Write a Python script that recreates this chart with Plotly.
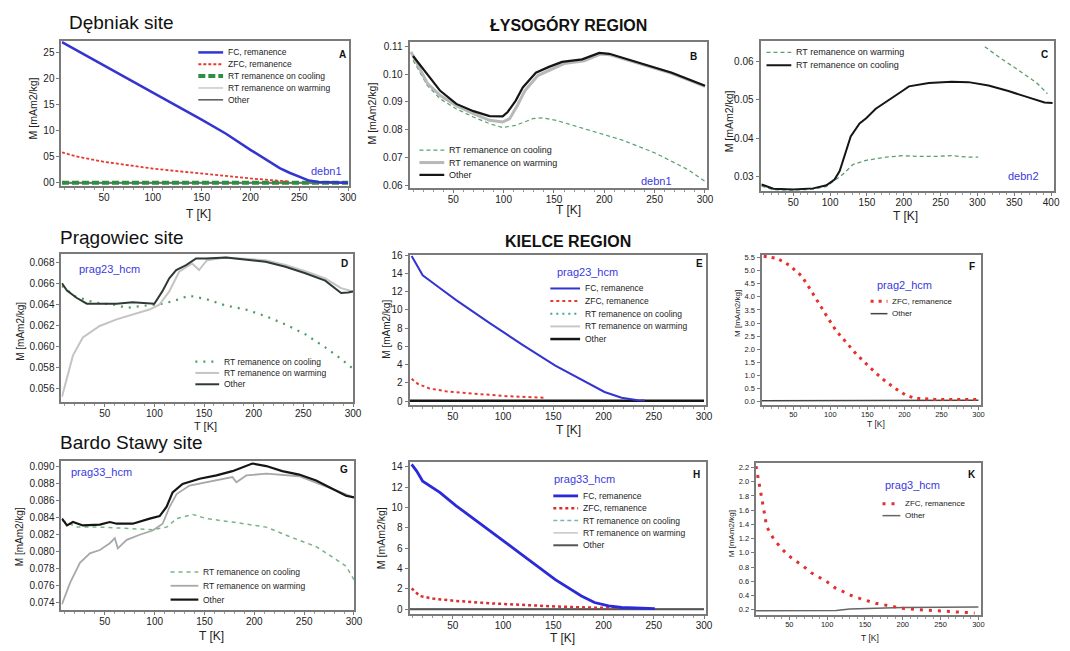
import plotly.graph_objects as go

W, H = 1070, 651
FONT = "Liberation Sans, Arial, sans-serif"

# ------------------------------------------------------------------ data
XT_300 = [50, 100, 150, 200, 250, 300]
XT_400 = [50, 100, 150, 200, 250, 300, 350, 400]

# A  (Debniak, debn1)
A_T_FC = [7, 25, 50, 75, 100, 125, 150, 175, 200, 215, 230, 240, 250, 260, 270, 300]
A_FC = [27.0, 25.1, 22.5, 19.9, 17.3, 14.7, 12.1, 9.4, 6.3, 4.6, 2.8, 1.9, 1.1, 0.4, 0.1, 0.0]
A_T_ZFC = [7, 25, 50, 75, 100, 125, 150, 175, 200, 225, 240]
A_ZFC = [5.8, 4.9, 4.0, 3.3, 2.7, 2.2, 1.8, 1.3, 0.8, 0.4, 0.2]
A_T_RT = [7, 50, 100, 150, 200, 250, 300]
A_COOL = [0.0, 0.0, 0.0, 0.0, 0.0, 0.0, 0.0]
A_WARM = [0.05, 0.05, 0.05, 0.05, 0.05, 0.05, 0.05]
A_OTHER = [-0.05, -0.05, -0.05, -0.05, -0.05, -0.05, -0.05]
A_YT = [0, 5, 10, 15, 20, 25]
A_YTT = ["00", "05", "10", "15", "20", "25"]

# B  (Lysogory, debn1)
B_T_OTHER = [10, 24, 37, 53, 70, 86, 99, 104, 112, 119, 132, 145, 158, 178, 195, 205, 234, 267, 300]
B_OTHER = [0.1065, 0.1000, 0.0940, 0.0893, 0.0867, 0.0849, 0.0848, 0.0864, 0.0905, 0.0952,
           0.1005, 0.1026, 0.1044, 0.1053, 0.1076, 0.1073, 0.1041, 0.1005, 0.0958]
B_T_WARM = [8, 24, 37, 53, 70, 86, 99, 106, 114, 121, 134, 147, 160, 180, 196, 205, 234, 267, 300]
B_WARM = [0.1080, 0.0968, 0.0923, 0.0887, 0.0858, 0.0834, 0.0828, 0.0840, 0.0890, 0.0940,
          0.0995, 0.1018, 0.1038, 0.1048, 0.1072, 0.1070, 0.1039, 0.1003, 0.0956]
B_T_COOL = [10, 24, 37, 53, 70, 86, 99, 112, 129, 139, 152, 185, 218, 251, 283, 300]
B_COOL = [0.1050, 0.0960, 0.0911, 0.0875, 0.0846, 0.0822, 0.0808, 0.0816, 0.0840, 0.0843,
          0.0834, 0.0799, 0.0763, 0.0716, 0.0657, 0.0615]
B_YT = [0.06, 0.07, 0.08, 0.09, 0.10, 0.11]
B_YTT = ["0.06", "0.07", "0.08", "0.09", "0.10", "0.11"]

# C  (debn2)
C_T_COOL = [7, 23, 50, 77, 95, 106, 113, 122, 128, 140, 149, 162, 180, 198, 207, 234, 265,
            288, 315, 342, 368, 391, 402]
C_COOL = [0.0280, 0.0269, 0.0267, 0.0270, 0.0278, 0.0293, 0.0315, 0.0370, 0.0405, 0.0439,
          0.0452, 0.0477, 0.0499, 0.0523, 0.0535, 0.0544, 0.0547, 0.0546, 0.0537, 0.0523,
          0.0507, 0.0493, 0.0492]
C_T_WARM = [7, 23, 50, 77, 95, 106, 117, 131, 149, 176, 198, 220, 243, 265, 288, 301, 305,
            310, 330, 355, 380, 395]
C_WARM = [0.0276, 0.0266, 0.0265, 0.0268, 0.0275, 0.0290, 0.0306, 0.0332, 0.0343, 0.0351,
          0.0355, 0.0353, 0.0353, 0.0355, 0.0351, 0.0351, None,
          0.0638, 0.0610, 0.0578, 0.0545, 0.0516]
C_YT = [0.03, 0.04, 0.05, 0.06]
C_YTT = ["0.03", "0.04", "0.05", "0.06"]

# D  (Pragowiec, prag23_hcm)
D_T_OTHER = [7, 12, 22, 32, 45, 62, 78, 95, 100, 108, 115, 122, 132, 142, 152, 172, 192,
             212, 232, 252, 272, 288, 295, 300]
D_OTHER = [0.06605, 0.06536, 0.06464, 0.06410, 0.06410, 0.06410, 0.06423, 0.06417, 0.06410,
           0.06527, 0.06652, 0.06731, 0.06778, 0.06841, 0.06841, 0.06850, 0.06831, 0.06810,
           0.06762, 0.06700, 0.06630, 0.06511, 0.06517, 0.06527]
D_T_WARM = [7, 12, 18, 28, 45, 62, 78, 95, 105, 115, 125, 138, 145, 153, 172, 192, 212, 232,
            252, 272, 288, 300]
D_WARM = [0.05521, 0.05694, 0.05914, 0.06087, 0.06197, 0.06260, 0.06307, 0.06354, 0.06400,
          0.06527, 0.06715, 0.06794, 0.06731, 0.06825, 0.06850, 0.06835, 0.06825, 0.06780,
          0.06720, 0.06650, 0.06558, 0.06527]
D_T_COOL = [7, 20, 40, 60, 72, 95, 108, 118, 135, 152, 172, 192, 212, 232, 252, 272, 288, 300]
D_COOL = [0.06580, 0.06480, 0.06420, 0.06400, 0.06370, 0.06400, 0.06410, 0.06432, 0.06486,
          0.06454, 0.06392, 0.06354, 0.06291, 0.06212, 0.06118, 0.05993, 0.05883, 0.05789]
D_YT = [0.056, 0.058, 0.060, 0.062, 0.064, 0.066, 0.068]
D_YTT = ["0.056", "0.058", "0.060", "0.062", "0.064", "0.066", "0.068"]

# E  (Kielce, prag23_hcm)
E_T_FC = [9, 20, 37, 53, 86, 119, 152, 185, 201, 218, 234, 241]
E_FC = [15.9, 13.8, 12.4, 11.1, 8.6, 6.2, 3.9, 1.9, 1.0, 0.36, 0.1, 0.07]
E_T_ZFC = [9, 15, 27, 43, 70, 103, 142]
E_ZFC = [2.45, 1.9, 1.37, 1.08, 0.83, 0.54, 0.36]
E_T_RT = [7, 50, 100, 150, 200, 250, 300]
E_COOL = [0.0, 0.0, 0.0, 0.0, 0.0, 0.0, 0.0]
E_WARM = [0.0, 0.0, 0.0, 0.0, 0.0, 0.0, 0.0]
E_OTHER = [0.05, 0.05, 0.05, 0.05, 0.05, 0.05, 0.05]
E_YT = [0, 2, 4, 6, 8, 10, 12, 14, 16]
E_YTT = ["0", "2", "4", "6", "8", "10", "12", "14", "16"]

# F  (prag2_hcm)
F_T_ZFC = [10, 28, 45, 61, 72, 81, 95, 108, 121, 135, 153, 170, 188, 202, 215, 242, 270, 300]
F_ZFC = [5.55, 5.47, 5.2, 4.8, 4.33, 3.9, 3.27, 2.7, 2.26, 1.82, 1.32, 0.88, 0.5, 0.25, 0.13,
         0.09, 0.09, 0.09]
F_T_OTHER = [7, 60, 120, 180, 240, 300]
F_OTHER = [0.04, 0.04, 0.05, 0.06, 0.06, 0.06]
F_YT = [0.0, 0.5, 1.0, 1.5, 2.0, 2.5, 3.0, 3.5, 4.0, 4.5, 5.0, 5.5]
F_YTT = ["0.0", "0.5", "1.0", "1.5", "2.0", "2.5", "3.0", "3.5", "4.0", "4.5", "5.0", "5.5"]

# G  (Bardo Stawy, prag33_hcm)
G_T_OTHER = [7, 12, 18, 28, 45, 55, 62, 78, 95, 105, 112, 118, 128, 145, 162, 178, 198, 212,
             228, 245, 262, 278, 292, 300]
G_OTHER = [0.0839, 0.0831, 0.0835, 0.0831, 0.0832, 0.0835, 0.0833, 0.0833, 0.0839, 0.0842,
           0.0853, 0.0870, 0.0880, 0.0886, 0.0890, 0.0895, 0.0904, 0.0901, 0.0895, 0.0891,
           0.0884, 0.0874, 0.0866, 0.0864]
G_T_WARM = [7, 15, 25, 35, 45, 55, 60, 63, 72, 85, 98, 108, 115, 122, 135, 152, 178, 182,
            192, 212, 245, 278, 300]
G_WARM = [0.0738, 0.0763, 0.0787, 0.0798, 0.0802, 0.0810, 0.0816, 0.0804, 0.0814, 0.0820,
          0.0825, 0.0833, 0.0853, 0.0868, 0.0878, 0.0882, 0.0888, 0.0882, 0.0890, 0.0892,
          0.0889, 0.0874, 0.0864]
G_T_COOL = [7, 22, 45, 78, 98, 112, 122, 138, 152, 178, 212, 235, 262, 278, 292, 300]
G_COOL = [0.0837, 0.0829, 0.0829, 0.0827, 0.0826, 0.0829, 0.0839, 0.0844, 0.0839, 0.0835,
          0.0829, 0.0818, 0.0806, 0.0794, 0.0783, 0.0767]
G_YT = [0.074, 0.076, 0.078, 0.080, 0.082, 0.084, 0.086, 0.088, 0.090]
G_YTT = ["0.074", "0.076", "0.078", "0.080", "0.082", "0.084", "0.086", "0.088", "0.090"]

# H  (prag33_hcm)
H_T_FC = [9, 14, 20, 37, 53, 86, 119, 152, 178, 191, 205, 218, 251]
H_FC = [14.26, 13.6, 12.6, 11.5, 10.2, 7.8, 5.35, 2.9, 1.3, 0.65, 0.32, 0.16, 0.06]
H_T_ZFC = [9, 17, 30, 53, 86, 119, 152, 185, 211]
H_ZFC = [2.05, 1.3, 1.04, 0.81, 0.58, 0.39, 0.26, 0.16, 0.1]
H_T_RT = [7, 50, 100, 150, 200, 250, 300]
H_COOL = [0.0, 0.0, 0.0, 0.0, 0.0, 0.0, 0.0]
H_WARM = [0.05, 0.05, 0.05, 0.05, 0.05, 0.05, 0.05]
H_OTHER = [0.0, 0.0, 0.0, 0.0, 0.0, 0.0, 0.0]
H_YT = [0, 2, 4, 6, 8, 10, 12, 14]
H_YTT = ["0", "2", "4", "6", "8", "10", "12", "14"]

# K  (prag3_hcm)
K_T_ZFC = [6, 9, 12, 14, 17, 20, 29, 39, 49, 60, 71, 79, 90, 99, 110, 121, 132, 143, 154, 164,
           182, 199, 221, 243, 265, 295]
K_ZFC = [2.22, 2.06, 1.9, 1.74, 1.56, 1.37, 1.2, 1.07, 0.96, 0.88, 0.79, 0.72, 0.65, 0.6, 0.51,
         0.45, 0.4, 0.36, 0.325, 0.29, 0.256, 0.22, 0.2, 0.186, 0.17, 0.154]
K_T_OTHER = [6, 60, 112, 130, 200, 300]
K_OTHER = [0.186, 0.186, 0.19, 0.21, 0.23, 0.24]
K_YT = [0.2, 0.4, 0.6, 0.8, 1.0, 1.2, 1.4, 1.6, 1.8, 2.0, 2.2]
K_YTT = ["0.2", "0.4", "0.6", "0.8", "1.0", "1.2", "1.4", "1.6", "1.8", "2.0", "2.2"]

L_FC = "FC, remanence"
L_ZFC = "ZFC, remanence"
L_COOL = "RT remanence on cooling"
L_WARM = "RT remanence on warming"
L_OTHER = "Other"

# ------------------------------------------------------------------ styles
BLUE = "#3434d0"
RED = "#e63a2e"

def st(color, width, dash="solid"):
    return dict(color=color, width=width, dash=dash)

panels = [
    dict(box=(62, 36, 352, 183), xr=[6.5, 301], yr=[-0.6, 27.3], xt=XT_300, yt=A_YT, ytt=A_YTT,
         tf=10, letter="A",
         series=[(A_T_RT, A_WARM, st("#c8c8c8", 1.5), L_WARM),
                 (A_T_RT, A_OTHER, st("#555555", 1.5), L_OTHER),
                 (A_T_RT, A_COOL, st("#2f8f40", 4, "7px,3px"), L_COOL),
                 (A_T_ZFC, A_ZFC, st(RED, 1.8, "3px,2px"), L_ZFC),
                 (A_T_FC, A_FC, st(BLUE, 2.5), L_FC)],
         legend=dict(x=200, y=48, dy=12, ln=25, size=8.5,
                     order=[L_FC, L_ZFC, L_COOL, L_WARM, L_OTHER]),
         tag=("debn1", 312, 168)),
    dict(box=(413, 37, 713, 185), xr=[6.5, 302], yr=[0.0592, 0.1117], xt=XT_300, yt=B_YT, ytt=B_YTT,
         tf=10, letter="B",
         series=[(B_T_COOL, B_COOL, st("#5aa06e", 1.2, "4px,3px"), L_COOL),
                 (B_T_WARM, B_WARM, st("#b8b8b8", 3), L_WARM),
                 (B_T_OTHER, B_OTHER, st("#151515", 2.2), L_OTHER)],
         legend=dict(x=423, y=147, dy=12.5, ln=25, size=9,
                     order=[L_COOL, L_WARM, L_OTHER]),
         tag=("debn1", 644, 178)),
    dict(box=(767, 36, 1063, 188), xr=[5.6, 404], yr=[0.0264, 0.0654], xt=XT_400, yt=C_YT, ytt=C_YTT,
         tf=10, letter="C",
         series=[(C_T_WARM, C_WARM, st("#5aa06e", 1.3, "4px,3px"), L_WARM),
                 (C_T_COOL, C_COOL, st("#151515", 2), L_COOL)],
         legend=dict(x=773, y=48, dy=13, ln=25, size=9,
                     order=[L_WARM, L_COOL]),
         tag=("debn2", 1015, 173)),
    dict(box=(62, 252, 356, 402), xr=[6.5, 300], yr=[0.05471, 0.06885], xt=XT_300, yt=D_YT, ytt=D_YTT,
         tf=10, letter="D",
         series=[(D_T_COOL, D_COOL, st("#4f9a63", 2.2, "2px,6px"), L_COOL),
                 (D_T_WARM, D_WARM, st("#c4c4c4", 2), L_WARM),
                 (D_T_OTHER, D_OTHER, st("#2e3b32", 2), L_OTHER)],
         legend=dict(x=197, y=361, dy=11.5, ln=24, size=8.5,
                     order=[L_COOL, L_WARM, L_OTHER]),
         tag=("prag23_hcm", 78, 267)),
    dict(box=(413, 253, 712, 405), xr=[6.9, 302], yr=[-0.43, 16.03], xt=XT_300, yt=E_YT, ytt=E_YTT,
         tf=10, letter="E",
         series=[(E_T_RT, E_WARM, st("#c8c8c8", 2), L_WARM),
                 (E_T_RT, E_COOL, st("#4aa0a0", 2, "2px,4px"), L_COOL),
                 (E_T_RT, E_OTHER, st("#151515", 2.5), L_OTHER),
                 (E_T_ZFC, E_ZFC, st(RED, 2, "3px,3px"), L_ZFC),
                 (E_T_FC, E_FC, st(BLUE, 2), L_FC)],
         legend=dict(x=555, y=287, dy=12.8, ln=30, size=8.5,
                     order=[L_FC, L_ZFC, L_COOL, L_WARM, L_OTHER]),
         tag=("prag23_hcm", 560, 270)),
    dict(box=(768, 253, 989, 405), xr=[7.1, 303], yr=[-0.124, 5.6], xt=XT_300, yt=F_YT, ytt=F_YTT,
         tf=7.5, letter="F",
         series=[(F_T_OTHER, F_OTHER, st("#444444", 1.5), L_OTHER),
                 (F_T_ZFC, F_ZFC, st("#e8302a", 3, "3px,5px"), L_ZFC)],
         legend=dict(x=878, y=300, dy=12.5, ln=17, size=8,
                     order=[L_ZFC, L_OTHER]),
         tag=("prag2_hcm", 882, 283)),
    dict(box=(62, 462, 357, 613), xr=[6.5, 300], yr=[0.07307, 0.09066], xt=XT_300, yt=G_YT, ytt=G_YTT,
         tf=10, letter="G",
         series=[(G_T_COOL, G_COOL, st("#7ab48a", 1.5, "4px,4px"), L_COOL),
                 (G_T_WARM, G_WARM, st("#a8a8a8", 1.8), L_WARM),
                 (G_T_OTHER, G_OTHER, st("#151515", 2.2), L_OTHER)],
         legend=dict(x=172, y=574, dy=14, ln=28, size=8.5,
                     order=[L_COOL, L_WARM, L_OTHER]),
         tag=("prag33_hcm", 70, 473)),
    dict(box=(413, 463, 712, 617), xr=[6.9, 302], yr=[-0.52, 14.46], xt=XT_300, yt=H_YT, ytt=H_YTT,
         tf=10, letter="H",
         series=[(H_T_RT, H_WARM, st("#aaaaaa", 1), L_WARM),
                 (H_T_RT, H_COOL, st("#7ab4b4", 1.5, "4px,3px"), L_COOL),
                 (H_T_RT, H_OTHER, st("#555555", 2), L_OTHER),
                 (H_T_ZFC, H_ZFC, st("#d83030", 2.5, "3px,3px"), L_ZFC),
                 (H_T_FC, H_FC, st("#2a2ad8", 2.8), L_FC)],
         legend=dict(x=558, y=497, dy=12.5, ln=25, size=8.5,
                     order=[L_FC, L_ZFC, L_COOL, L_WARM, L_OTHER]),
         tag=("prag33_hcm", 557, 480)),
    dict(box=(762, 464, 989, 618), xr=[5.4, 303], yr=[0.12, 2.26], xt=XT_300, yt=K_YT, ytt=K_YTT,
         tf=7.5, letter="K",
         series=[(K_T_OTHER, K_OTHER, st("#666666", 1.5), L_OTHER),
                 (K_T_ZFC, K_ZFC, st("#e03030", 3, "3px,6px"), L_ZFC)],
         legend=dict(x=890, y=505, dy=12, ln=18, size=8,
                     order=[L_ZFC, L_OTHER]),
         tag=("prag3_hcm", 890, 486)),
]

# axis-title and site-title placement (pixels)
ytitle_pos = [(33, 105, 10.5), (375, 110, 10.5), (735, 118, 10.5), (21, 330, 10), (390, 328, 10),
              (743, 312, 8), (20, 538, 10), (385, 540, 10.5), (738, 535, 8)]
xtitle_pos = [(200, 212, 12), (573, 208, 12), (913, 214, 12), (207, 426, 11), (573, 430, 12),
              (883, 424, 8.5), (213, 639, 12), (567, 641, 12), (877, 641, 8.5)]
letter_pos = [(345, 50), (699, 52), (1053, 50), (347, 262), (705, 262), (980, 265), (347, 470),
              (702, 475), (980, 475)]
titles = [("Dębniak site", 68, 18, False), ("ŁYSOGÓRY REGION", 573, 20, True),
          ("Prągowiec site", 58, 235, False), ("KIELCE REGION", 573, 239, True),
          ("Bardo Stawy site", 58, 443, False)]

# ------------------------------------------------------------------ build
def PX(x):
    return x / W

def PY(y):
    return 1 - y / H

fig = go.Figure()
layout = {}
shapes = []
ann = []

for i, p in enumerate(panels):
    n = "" if i == 0 else str(i + 1)
    l, t, r, b = p["box"]
    xa = dict(domain=[PX(l), PX(r)], range=p["xr"], anchor="y" + n, tickmode="array",
              tickvals=p["xt"], showline=True, mirror=True, linecolor="#7a7a7a", linewidth=2,
              ticks="outside", ticklen=3, tickcolor="#7a7a7a", showgrid=False, zeroline=False,
              ticklabelstandoff=-2,
              tickfont=dict(size=p["tf"], family=FONT, color="#222"),
              minor=dict(tickmode="linear", tick0=0, dtick=10, ticks="outside", ticklen=2,
                         tickcolor="#999"))
    ya = dict(domain=[PY(b), PY(t)], range=p["yr"], anchor="x" + n, tickmode="array",
              tickvals=p["yt"], ticktext=p["ytt"], showline=True, mirror=True,
              linecolor="#7a7a7a", linewidth=2, ticks="outside", ticklen=3, tickcolor="#7a7a7a",
              showgrid=False, zeroline=False,
              tickfont=dict(size=p["tf"], family=FONT, color="#222"))
    layout["xaxis" + n] = xa
    layout["yaxis" + n] = ya

    styles = {}
    for T, M, s, name in p["series"]:
        styles[name] = s
        fig.add_trace(go.Scatter(x=T, y=M, mode="lines", line=s, name=name,
                                 xaxis="x" + n, yaxis="y" + n, showlegend=False,
                                 connectgaps=False, hoverinfo="skip"))

    lg = p["legend"]
    for k, name in enumerate(lg["order"]):
        yy = lg["y"] + k * lg["dy"]
        shapes.append(dict(type="line", xref="paper", yref="paper", x0=PX(lg["x"]),
                           x1=PX(lg["x"] + lg["ln"]), y0=PY(yy), y1=PY(yy), line=styles[name]))
        ann.append(dict(x=PX(lg["x"] + lg["ln"] + 3), y=PY(yy), xref="paper", yref="paper",
                        text=name, showarrow=False, xanchor="left", yanchor="middle",
                        font=dict(size=lg["size"], family=FONT, color="#222")))

    tg, tx, ty = p["tag"]
    ann.append(dict(x=PX(tx), y=PY(ty), xref="paper", yref="paper", text=tg, showarrow=False,
                    xanchor="left", yanchor="middle",
                    font=dict(size=11, family=FONT, color="#3a3ae0")))
    lx, ly = letter_pos[i]
    ann.append(dict(x=PX(lx), y=PY(ly), xref="paper", yref="paper", text="<b>%s</b>" % p["letter"],
                    showarrow=False, xanchor="center", yanchor="middle",
                    font=dict(size=10, family=FONT, color="#111")))
    yx, yy, ys = ytitle_pos[i]
    ann.append(dict(x=PX(yx), y=PY(yy), xref="paper", yref="paper", text="M [mAm2/kg]",
                    textangle=-90, showarrow=False, xanchor="center", yanchor="middle",
                    font=dict(size=ys, family=FONT, color="#222")))
    xx, xy, xs = xtitle_pos[i]
    ann.append(dict(x=PX(xx), y=PY(xy), xref="paper", yref="paper", text="T [K]",
                    showarrow=False, xanchor="center", yanchor="middle",
                    font=dict(size=xs, family=FONT, color="#222")))

for text, x, y, bold in titles:
    ann.append(dict(x=PX(x), y=PY(y), xref="paper", yref="paper",
                    text=("<b>%s</b>" % text) if bold else text, showarrow=False,
                    xanchor="center" if bold else "left", yanchor="middle",
                    font=dict(size=16 if bold else 19, family=FONT, color="#111")))

fig.update_layout(width=W, height=H, autosize=False, margin=dict(l=0, r=0, t=0, b=0),
                  paper_bgcolor="white", plot_bgcolor="white", showlegend=False,
                  shapes=shapes, annotations=ann, **layout)

fig.write_html("out.html", config={"displayModeBar": False},
               post_script="document.body.style.margin='0px';document.body.style.padding='0px';"
                           "document.documentElement.style.overflow='hidden';")
